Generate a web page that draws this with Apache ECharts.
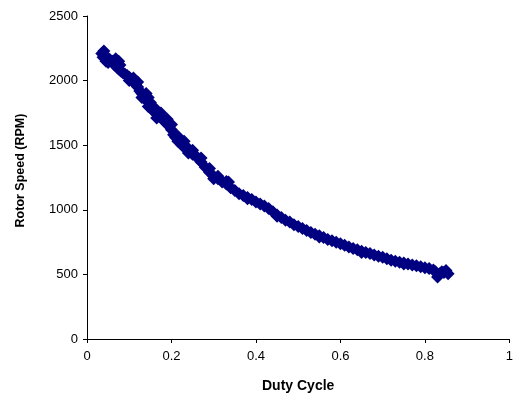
<!DOCTYPE html>
<html>
<head>
<meta charset="utf-8">
<script src="https://cdn.jsdelivr.net/npm/echarts@6/dist/echarts.min.js"></script>
<style>html,body{margin:0;padding:0;background:#fff;}#c{width:516px;height:399px;}</style>
</head>
<body>
<div id="c"></div>
<script>
var dutyCycle = [0.035,0.038,0.040,0.045,0.050,0.055,0.060,0.065,0.068,0.070,0.072,0.075,0.080,0.085,0.090,0.095,0.100,0.105,0.110,0.115,0.120,0.125,0.130,0.135,0.140,0.142,0.145,0.150,0.155,0.160,0.165,0.170,0.175,0.180,0.185,0.190,0.195,0.200,0.205,0.210,0.215,0.220,0.225,0.230,0.240,0.250,0.260,0.265,0.270,0.280,0.290,0.300,0.310,0.320,0.330,0.335,0.340,0.350,0.360,0.370,0.380,0.390,0.400,0.410,0.420,0.430,0.440,0.450,0.460,0.470,0.480,0.490,0.500,0.510,0.520,0.530,0.540,0.550,0.560,0.570,0.580,0.590,0.600,0.610,0.620,0.630,0.640,0.650,0.660,0.670,0.680,0.690,0.700,0.710,0.720,0.730,0.740,0.750,0.760,0.770,0.780,0.790,0.800,0.810,0.820,0.825,0.830,0.835,0.840,0.845,0.850,0.855,
  0.045,0.075,0.078,0.110,0.120,0.145,0.150,0.160,0.175,0.190,0.200,0.215,0.230,0.250,0.270,0.290,0.310,0.330,0.050,0.100,0.130,0.165,0.240,0.300,0.380,0.450,0.550,0.650,0.750];
var rotorSpeed = [2210,2180,2230,2190,2170,2160,2150,2120,2170,2140,2100,2090,2075,2060,2050,2040,2025,2010,1990,1970,1950,1920,1900,1880,1900,1840,1800,1790,1770,1760,1740,1730,1710,1700,1680,1660,1650,1620,1580,1560,1530,1520,1500,1485,1475,1430,1410,1390,1370,1330,1290,1260,1240,1215,1200,1215,1170,1150,1125,1110,1095,1080,1060,1045,1030,1010,985,960,940,920,905,885,870,855,840,825,810,800,785,770,760,748,738,725,712,700,690,680,670,662,650,640,632,622,610,602,595,588,580,572,566,560,552,545,535,520,480,505,520,515,530,505,
  2150,2150,2120,2020,1990,1870,1830,1790,1750,1700,1660,1570,1530,1460,1400,1320,1260,1220,2140,2000,1870,1710,1440,1240,1085,950,790,670,580];
var xTicks = [0, 0.2, 0.4, 0.6, 0.8, 1];
var yTicks = [0, 500, 1000, 1500, 2000, 2500];

var pts = dutyCycle.map(function(x, i){ return [x, rotorSpeed[i]]; });
var chart = echarts.init(document.getElementById('c'), null, {renderer:'canvas'});
var font = 'Liberation Sans, Arial, sans-serif';
chart.setOption({
  animation: false,
  backgroundColor: '#fff',
  grid: {left: 87, right: 5, top: 16, bottom: 60, containLabel: false},
  xAxis: {
    type: 'value', min: xTicks[0], max: xTicks[xTicks.length-1], interval: 0.2,
    name: 'Duty Cycle', nameLocation: 'middle', nameGap: 40,
    nameTextStyle: {fontFamily: font, fontWeight: 'bold', fontSize: 14, color: '#000'},
    axisLine: {lineStyle: {color: '#000', width: 1}},
    axisTick: {show: true, inside: false, length: 4, lineStyle: {color: '#000'}},
    axisLabel: {fontFamily: font, fontSize: 13, color: '#000', margin: 11},
    splitLine: {show: false}
  },
  yAxis: {
    type: 'value', min: yTicks[0], max: yTicks[yTicks.length-1], interval: 500,
    name: 'Rotor Speed (RPM)', nameLocation: 'middle', nameGap: 60, nameRotate: 90,
    nameTextStyle: {fontFamily: font, fontWeight: 'bold', fontSize: 12.5, color: '#000', padding: [0, 0, 0, 14]},
    axisLine: {show: true, lineStyle: {color: '#000', width: 1}},
    axisTick: {show: true, inside: false, length: 4, lineStyle: {color: '#000'}},
    axisLabel: {fontFamily: font, fontSize: 13, color: '#000', margin: 9,
      formatter: function(v){ return String(v); }},
    splitLine: {show: false}
  },
  series: [{
    type: 'scatter', data: pts, symbol: 'diamond', symbolSize: 13,
    itemStyle: {color: '#000080', opacity: 1}
  }]
});
</script>
</body>
</html>
